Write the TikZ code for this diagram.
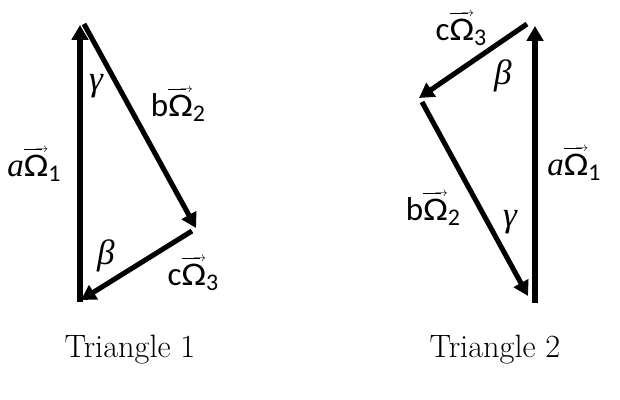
\documentclass[tikz,border=0pt]{standalone}
\usepackage{fontspec}
\newfontfamily\calib{Carlito}
\newfontfamily\serit{Liberation Serif}[UprightFont=*-Italic]
\usepackage{tikz}
\usetikzlibrary{
        arrows.meta,
        positioning
    }
\tikzset{>={Triangle[length=10.5pt,width=11.5pt]}}
\tikzset{vec/.style={->,line width=3.6pt},
         lab/.style={font=\fontsize{23.5}{28}\selectfont\calib},
         grk/.style={font=\fontsize{25}{30}\selectfont\serit},
         captxt/.style={font=\fontsize{23}{28}\selectfont}}
% arrow over a letter
\newcommand{\ovec}[1]{\vbox{\offinterlineskip\ialign{##\cr
    {\fontsize{9}{9}\selectfont$\mathsurround=0pt\leaders\vrule height 2.5pt depth -2.0pt\hfill\mkern-9mu\rightarrow$}\cr
    \noalign{\kern1.5pt}#1\cr}}}
\newcommand{\omlab}[2]{#1\ovec{\scalebox{1.12}[1]{Ω}}\raisebox{-4pt}{\fontsize{17}{17}\selectfont #2}}

\begin{document}
\begin{tikzpicture}[x=0.025cm,y=-0.025cm]
        \useasboundingbox (0,0) rectangle (620,400);
        % triangle 1
        \coordinate (a1s) at (80,302);
        \coordinate (a1e) at (80,25);
        \coordinate (b1s) at (84,24);
        \coordinate (b1e) at (196,228);
        \coordinate (c1s) at (192,231);
        \coordinate (c1e) at (81,300);
        \draw[vec] (a1s) -- (a1e);
        \draw[vec] (b1s) -- (b1e);
        \draw[vec] (c1s) -- (c1e);
        \node[grk] (ga1) at (96,86) {γ};
        \node[grk] (be1) at (106,256) {β};
        \node[lab] (ao1) at (34,165) {\omlab{{\serit a}}{1}};
        \node[lab] (bo1) at (178,105) {\omlab{b}{2}};
        \node[lab] (co1) at (193,274) {\omlab{c}{3}};
        \node[captxt] (t1) at (130,350) {Triangle 1};
        % triangle 2
        \coordinate (a2s) at (535,303);
        \coordinate (a2e) at (535,26);
        \coordinate (c2s) at (527,24);
        \coordinate (c2e) at (419,98);
        \coordinate (b2s) at (422,102);
        \coordinate (b2e) at (528,296);
        \draw[vec] (a2s) -- (a2e);
        \draw[vec] (c2s) -- (c2e);
        \draw[vec] (b2s) -- (b2e);
        \node[grk] (be2) at (503,76) {β};
        \node[grk] (ga2) at (510,222) {γ};
        \node[lab] (ao2) at (574,164) {\omlab{{\serit a}}{1}};
        \node[lab] (bo2) at (433,209) {\omlab{b}{2}};
        \node[lab] (co2) at (461,29) {\omlab{c}{3}};
        \node[captxt] (t2) at (495,350) {Triangle 2};
    \end{tikzpicture}
\end{document}
